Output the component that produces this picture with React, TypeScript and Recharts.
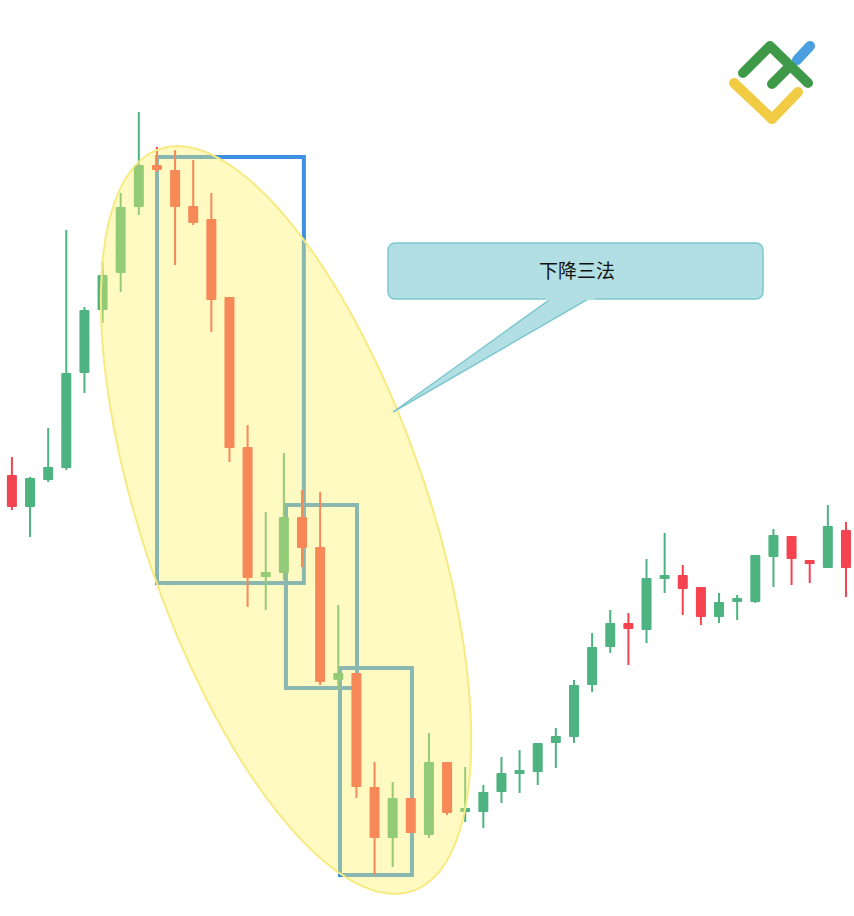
import React from 'react';
import { ComposedChart, Bar, XAxis, YAxis, ReferenceArea } from 'recharts';

// candle values (price units, higher = up)
const opens = [441, 409, 436, 448, 543, 606, 643, 709, 751, 746, 710, 697, 619, 469, 339, 343, 399, 369, 236, 243, 129, 78, 118, 81, 154, 105, 104, 124, 142, 144, 173, 179, 231, 269, 293, 286, 338, 341, 329, 299, 315, 314, 359, 380, 355, 348, 386];
const closes = [409, 438, 449, 543, 606, 641, 709, 751, 746, 709, 693, 616, 468, 338, 344, 399, 368, 234, 243, 129, 78, 118, 83, 154, 103, 107, 124, 143, 146, 173, 180, 231, 269, 293, 287, 338, 340, 327, 299, 314, 317, 361, 381, 357, 353, 390, 348];
const highs = [459, 439, 488, 686, 609, 654, 723, 804, 769, 766, 756, 723, 619, 491, 404, 463, 426, 424, 311, 243, 154, 134, 118, 183, 154, 149, 131, 159, 166, 173, 188, 236, 283, 306, 303, 357, 383, 351, 329, 323, 321, 361, 387, 380, 355, 411, 394];
const lows = [406, 379, 434, 446, 523, 593, 624, 701, 744, 651, 691, 584, 454, 309, 306, 336, 349, 231, 226, 118, 41, 49, 83, 78, 101, 94, 88, 113, 123, 131, 148, 173, 224, 263, 251, 273, 323, 301, 291, 293, 296, 313, 329, 331, 333, 348, 319];

// the three boxes of the pattern
const boxes = [
  { x1: 8.0, x2: 16.1, y1: 333, y2: 759 },
  { x1: 15.11, x2: 19.03, y1: 228, y2: 411 },
  { x1: 18.09, x2: 22.06, y1: 41, y2: 248 },
];

const UP = '#4DB380';
const DOWN = '#F2434F';

const data = opens.map((o, i) => ({
  idx: i,
  open: o,
  close: closes[i],
  high: highs[i],
  low: lows[i],
  range: [lows[i], highs[i]],
}));

const Candle = (props: any) => {
  const { x, y, width, height, payload } = props;
  const { open, close, high, low } = payload;
  const color = close >= open ? UP : DOWN;
  const k = height / (high - low || 1);
  const cx = x + width / 2;
  const top = y + (high - Math.max(open, close)) * k;
  let bodyH = Math.abs(open - close) * k;
  let bodyTop = top;
  if (bodyH < 4) {
    bodyTop = top - (4 - bodyH) / 2;
    bodyH = 4;
  }
  return (
    <g>
      <line x1={cx} x2={cx} y1={y} y2={y + height} stroke={color} strokeWidth={2} />
      <rect x={cx - 5} y={bodyTop} width={10} height={bodyH} fill={color} rx={1} />
    </g>
  );
};

const Overlay = () => (
  <svg
    width={854}
    height={916}
    style={{ position: 'absolute', left: 0, top: 0, pointerEvents: 'none' }}
  >
    {/* highlight ellipse */}
    <ellipse
      cx={286}
      cy={520}
      rx={143}
      ry={392}
      transform="rotate(-18.8 286 520)"
      fill="#FFEF66"
      fillOpacity={0.4}
      stroke="#F8EA82"
      strokeWidth={2}
    />
    {/* callout */}
    <polygon points="552,298 590,298 393,412" fill="#B2DFE3" stroke="#7FC8CF" strokeWidth={1.5} />
    <rect x={388} y={243} width={375} height={56} rx={7} fill="#B2DFE3" stroke="#7FC8CF" strokeWidth={1.5} />
    <rect x={545} y={296} width={50} height={4} fill="#B2DFE3" />
    <text
      x={577}
      y={278}
      textAnchor="middle"
      fontSize={19}
      fontFamily="'Noto Sans CJK SC', sans-serif"
      fill="#111"
    >
      下降三法
    </text>
    {/* logo */}
    <g fill="none" strokeLinecap="round" strokeLinejoin="round" strokeWidth={10}>
      <polyline points="797,60 810,46" stroke="#4A9FE0" />
      <polyline points="743,73 770,46 808,83" stroke="#3E9A48" />
      <polyline points="772,84 790,66" stroke="#3E9A48" />
      <polyline points="734,83 772,119 798,92" stroke="#F2CB45" />
    </g>
  </svg>
);

export default function App() {
  return (
    <div style={{ position: 'absolute', left: 0, top: 0, width: 854, height: 916, background: '#fff' }}>
      <ComposedChart width={854} height={916} data={data} margin={{ top: 0, right: 0, bottom: 0, left: 0 }}>
        <XAxis dataKey="idx" type="number" domain={[-0.66, 46.44]} hide allowDataOverflow />
        <YAxis type="number" domain={[0, 916]} hide allowDataOverflow />
        <Bar dataKey="range" barSize={10} shape={<Candle />} isAnimationActive={false} />
        {boxes.map((b, i) => (
          <ReferenceArea
            key={i}
            x1={b.x1}
            x2={b.x2}
            y1={b.y1}
            y2={b.y2}
            fill="none"
            fillOpacity={0}
            stroke="#3D91E0"
            strokeWidth={4}
            ifOverflow="visible"
          />
        ))}
      </ComposedChart>
      <Overlay />
    </div>
  );
}
